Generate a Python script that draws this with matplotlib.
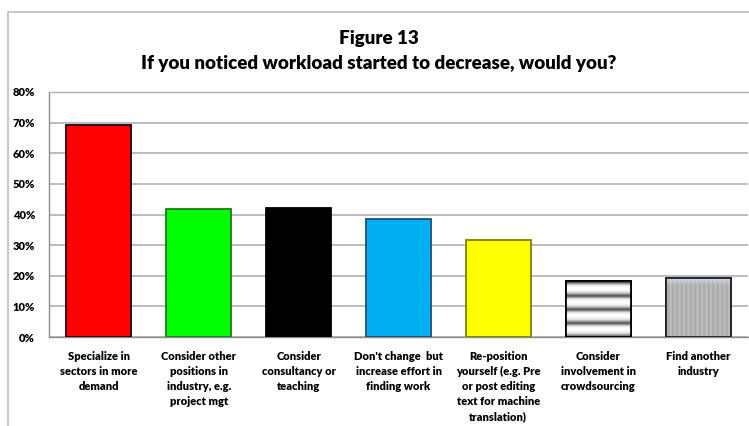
import numpy as np
import matplotlib.pyplot as plt
from matplotlib.patches import Rectangle

# Survey responses (% of respondents)
categories = [
    "Specialize in\nsectors in more\ndemand",
    "Consider other\npositions in\nindustry, e.g.\nproject mgt",
    "Consider\nconsultancy or\nteaching",
    "Don't change  but\nincrease effort in\nfinding work",
    "Re-position\nyourself (e.g. Pre\nor post editing\ntext for machine\ntranslation)",
    "Consider\ninvolvement in\ncrowdsourcing",
    "Find another\nindustry",
]
values = [69.3, 41.8, 42.0, 38.5, 31.7, 18.3, 19.2]
y_ticks = [0, 10, 20, 30, 40, 50, 60, 70, 80]
y_tick_labels = [f"{t}%" for t in y_ticks]

fill_colors = ["#FF0000", "#00FF00", "#000000", "#00B0F0", "#FFFF00", "#FFFFFF", "#BDBDBD"]
edge_colors = ["#1a0000", "#1E7A1E", "#000000", "#1F4E79", "#7F7F00", "#000000", "#202020"]

title_top = "Figure 13"
title_main = "If you noticed workload started to decrease, would you?"

plt.rcParams['font.family'] = ['Lato', 'DejaVu Sans']

fig = plt.figure(figsize=(7.49, 4.26), dpi=100)
W, H = 749, 426
ax = fig.add_axes([49 / W, 1 - 337 / H, (748 - 49) / W, (337 - 92) / H])

x = np.arange(len(categories))
bars = ax.bar(x, values, width=0.65, color=fill_colors, edgecolor=edge_colors,
              linewidth=1.3, zorder=3)

ax.set_xlim(-0.5, len(categories) - 0.5)
ax.set_ylim(0, 80)
ax.set_yticks(y_ticks)
ax.set_yticklabels(y_tick_labels, fontsize=8, fontweight='heavy')
ax.set_xticks(x)
ax.set_xticklabels(categories, fontsize=8, fontweight='heavy', linespacing=1.45,
                   va='top')
ax.tick_params(axis='both', length=0)
ax.tick_params(axis='y', pad=10)
ax.tick_params(axis='x', pad=10)
ax.yaxis.grid(True, color='#B0B0B0', linewidth=1.2, zorder=0)
ax.set_axisbelow(True)
for side in ['left', 'bottom', 'top']:
    ax.spines[side].set_color('#8C8C8C')
    ax.spines[side].set_linewidth(1.0)
ax.spines['right'].set_visible(False)
ax.spines['top'].set_color('#B0B0B0')

# Textured fills for the last two bars, clipped to the bar shapes
def textured(bar, img):
    bx, by = bar.get_x(), bar.get_y()
    bw, bh = bar.get_width(), bar.get_height()
    im = ax.imshow(img, extent=[bx, bx + bw, by, by + bh], aspect='auto',
                   origin='upper', zorder=3.5, interpolation='bilinear')
    im.set_clip_path(bar)
    ax.add_patch(Rectangle((bx, by), bw, bh, fill=False,
                           edgecolor=bar.get_edgecolor(), linewidth=1.3, zorder=4))

# horizontal banded metal look
b6 = bars[5]
rows = 240
period = 4.4  # percent units per band
ys = np.linspace(b6.get_height(), 0, rows)
phase = (ys % period) / period
prof = np.interp(phase, [0, 0.12, 0.25, 0.45, 0.65, 0.8, 0.9, 1.0],
                 [0.30, 0.55, 0.85, 1.0, 1.0, 0.88, 0.6, 0.30])
img6 = np.repeat(prof[:, None], 10, axis=1)
img6 = np.dstack([img6, img6, img6])
img6[:6, :, 2] = np.minimum(img6[:6, :, 2] + 0.05, 1)
textured(b6, np.clip(img6, 0, 1))

# vertical striped gray look with a pale blue top
b7 = bars[6]
cols = 300
xs = np.linspace(0, b7.get_width(), cols)
xper = 0.045
xphase = (xs % xper) / xper
vprof = np.interp(xphase, [0, 0.3, 0.5, 0.8, 1.0], [0.76, 0.70, 0.64, 0.72, 0.76])
img7 = np.repeat(vprof[None, :], 200, axis=0)
img7 = np.dstack([img7, img7, img7])
top = np.linspace(0, 1, 200)
blend = np.clip(1 - top / 0.12, 0, 1)[:, None]
tint = np.array([0.80, 0.84, 0.92])
img7 = img7 * (1 - blend[..., None]) + tint * blend[..., None]
textured(b7, np.clip(img7, 0, 1))

ax.set_xlim(-0.5, len(categories) - 0.5)
ax.set_ylim(0, 80)

cx = 0.5 * (142 + 616) / W
fig.text(cx, 1 - 37 / H, title_top, ha='center', va='center_baseline',
         fontsize=13.5, fontweight='heavy')
fig.text(cx, 1 - 62 / H, title_main, ha='center', va='center_baseline',
         fontsize=13.5, fontweight='heavy')

# chart area frame
fig.patches.append(Rectangle((8 / W, -0.1), 1.2, 1 - 12 / H + 0.1,
                             transform=fig.transFigure, fill=False,
                             edgecolor='#BDBDBD', linewidth=1.2))

fig.savefig('out.png', dpi=100)
